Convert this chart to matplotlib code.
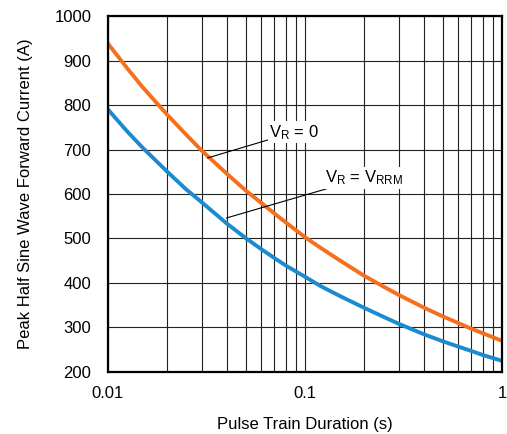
import matplotlib
matplotlib.use('Agg')
import matplotlib.pyplot as plt
from matplotlib.ticker import FixedLocator, FuncFormatter, LogLocator, NullFormatter

plt.rcParams.update({'font.family': ['Liberation Sans', 'DejaVu Sans'],
                     'mathtext.fontset': 'custom',
                     'mathtext.rm': 'Liberation Sans',
                     'font.size': 12})

# pulse train duration (s)
duration = [0.01, 0.0125, 0.015, 0.02, 0.025, 0.03, 0.04, 0.05, 0.06, 0.07, 0.08,
            0.1, 0.12, 0.15, 0.2, 0.25, 0.3, 0.4, 0.5, 0.6, 0.7, 0.8, 1.0]
# peak current (A), V_R = 0
current_vr0 = [938, 883, 840, 778, 733, 697, 646, 608, 580, 556, 536,
               503, 479, 451, 416, 392, 373, 345, 325, 310, 297, 287, 270]
# peak current (A), V_R = V_RRM
current_vrrm = [790, 741, 704, 650, 610, 581, 534, 501, 476, 456, 439,
                414, 393, 371, 344, 324, 308, 285, 269, 257, 247, 238, 225]

xticks = [0.01, 0.1, 1]
yticks = [200, 300, 400, 500, 600, 700, 800, 900, 1000]

orange = '#F5701E'
blue = '#1C8AD0'

fig = plt.figure(figsize=(5.07, 4.34), dpi=100)
ax = fig.add_axes([0.213, 0.143, 0.777, 0.820])

ax.plot(duration, current_vr0, color=orange, lw=2.8, zorder=3)
ax.plot(duration, current_vrrm, color=blue, lw=2.8, zorder=3)

ax.set_xscale('log')
ax.set_xlim(0.01, 1)
ax.set_ylim(200, 1000)
ax.xaxis.set_major_locator(FixedLocator(xticks))
ax.xaxis.set_major_formatter(FuncFormatter(lambda v, p: '%g' % v))
ax.xaxis.set_minor_locator(LogLocator(base=10, subs=range(2, 10)))
ax.xaxis.set_minor_formatter(NullFormatter())
ax.set_yticks(yticks)

ax.grid(which='both', axis='x', color='#222222', lw=0.8)
ax.grid(which='major', axis='y', color='#222222', lw=0.8)
ax.tick_params(which='both', length=0)
ax.tick_params(axis='x', pad=10)
ax.tick_params(axis='y', pad=12)
for s in ax.spines.values():
    s.set_linewidth(1.6)
    s.set_zorder(4)

ax.set_xlabel('Pulse Train Duration (s)', labelpad=12)
ax.set_ylabel('Peak Half Sine Wave Forward Current (A)', labelpad=15)

box = dict(facecolor='white', edgecolor='none', pad=1)
ax.annotate('$\\mathregular{V_R}$ = 0', xy=(0.032, 681), xytext=(0.0658, 739),
            ha='left', va='center', bbox=box, zorder=5,
            arrowprops=dict(arrowstyle='-', color='black', lw=0.8, shrinkA=0, shrinkB=0))
ax.annotate('$\\mathregular{V_R}$ = $\\mathregular{V_{RRM}}$', xy=(0.0399, 546), xytext=(0.126, 636),
            ha='left', va='center', bbox=box, zorder=5,
            arrowprops=dict(arrowstyle='-', color='black', lw=0.8, shrinkA=0, shrinkB=0))

plt.savefig('out.png', dpi=100)
